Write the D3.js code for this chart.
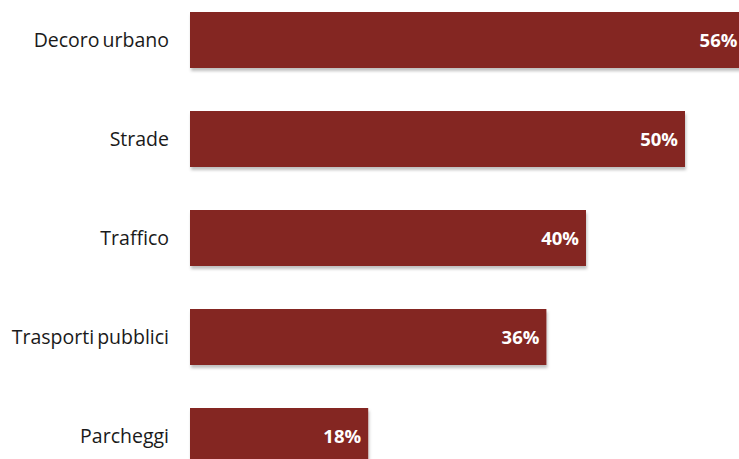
<!DOCTYPE html>
<html lang="it">
<head>
<meta charset="utf-8">
<title>Bar chart</title>
<script src="https://cdnjs.cloudflare.com/ajax/libs/d3/7.8.5/d3.min.js"></script>
<style>
  html, body { margin: 0; padding: 0; background: #fff; }
  svg { display: block; }
</style>
</head>
<body>
<div id="viz"></div>
<script>
const categories = ["Decoro urbano", "Strade", "Traffico", "Trasporti pubblici", "Parcheggi"];
const values = [56, 50, 40, 36, 18];
const valueLabels = ["56%", "50%", "40%", "36%", "18%"];

const width = 739;
const height = 459;
const barColor = "#842723";

const svg = d3.select("#viz")
  .append("svg")
  .attr("width", width)
  .attr("height", height);

// soft shadow under the bars
const defs = svg.append("defs");
const f = defs.append("filter")
  .attr("id", "shadow")
  .attr("x", "-5%").attr("y", "-10%")
  .attr("width", "115%").attr("height", "130%");
f.append("feDropShadow")
  .attr("dx", 1).attr("dy", 3)
  .attr("stdDeviation", 1.5)
  .attr("flood-color", "#000")
  .attr("flood-opacity", 0.25);

const x = d3.scaleLinear()
  .domain([0, 60])
  .range([190, 190 + 594]);

const y = d3.scaleBand()
  .domain(categories)
  .range([12, 464])
  .paddingInner(43 / 99)
  .paddingOuter(0)
  .align(0);

const data = categories.map((c, i) => ({ cat: c, v: values[i], lab: valueLabels[i] }));

svg.append("g")
  .selectAll("rect")
  .data(data)
  .enter()
  .append("rect")
    .attr("x", x(0))
    .attr("y", d => y(d.cat))
    .attr("width", d => x(d.v) - x(0))
    .attr("height", y.bandwidth())
    .attr("fill", barColor)
    .attr("filter", "url(#shadow)");

svg.append("g")
  .selectAll("text")
  .data(data)
  .enter()
  .append("text")
    .attr("x", d => x(d.v) - 7)
    .attr("y", d => y(d.cat) + y.bandwidth() / 2)
    .attr("dy", "0.36em")
    .attr("text-anchor", "end")
    .attr("fill", "#fff")
    .attr("font-family", "Open Sans")
    .attr("font-weight", 700)
    .attr("font-size", 18.5)
    .text(d => d.lab);

svg.append("g")
  .selectAll("text")
  .data(data)
  .enter()
  .append("text")
    .attr("x", 169)
    .attr("y", d => y(d.cat) + y.bandwidth() / 2)
    .attr("dy", "0.36em")
    .attr("text-anchor", "end")
    .attr("fill", "#1a1a1a")
    .attr("font-family", "Open Sans")
    .attr("font-size", 19.5)
    .attr("word-spacing", -2)
    .text(d => d.cat);
</script>
</body>
</html>
